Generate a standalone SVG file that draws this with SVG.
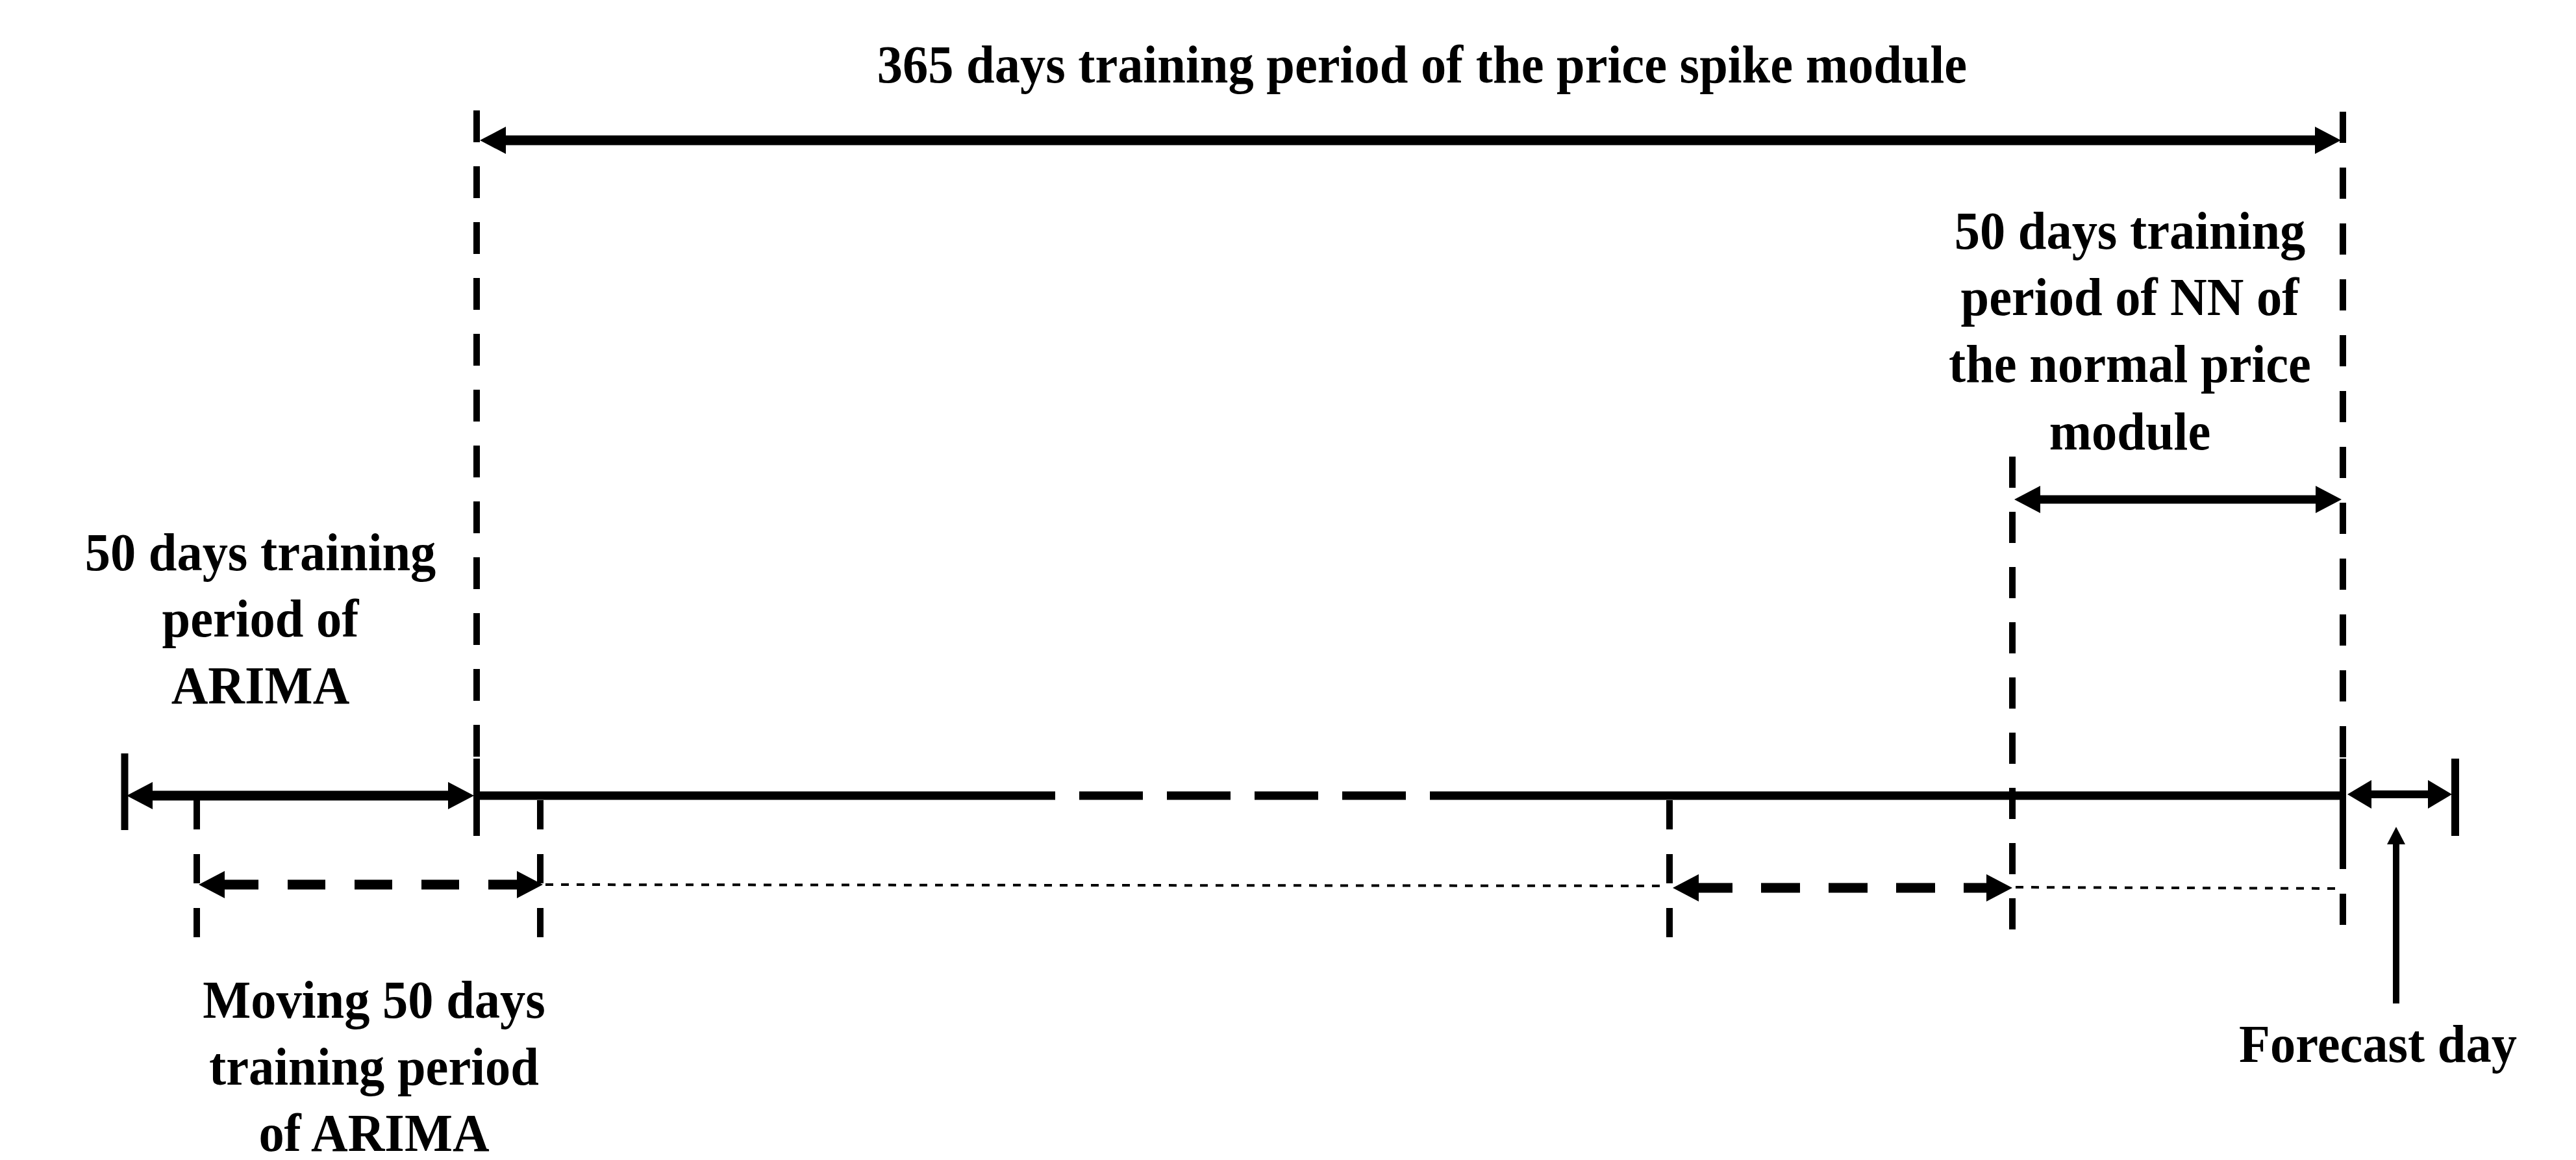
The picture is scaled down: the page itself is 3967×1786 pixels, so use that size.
<svg xmlns="http://www.w3.org/2000/svg" width="3967" height="1786" viewBox="0 0 3967 1786">
  <style>
    .lbl { font-family: "Liberation Serif", "Times New Roman", serif; font-weight: bold; font-size: 82px; fill: #000; text-anchor: middle; }
    .solid { stroke: #000; fill: none; stroke-linecap: butt; }
    .vdash { stroke: #000; fill: none; stroke-width: 10; }
    .dot { stroke: #000; fill: none; stroke-width: 4; stroke-dasharray: 12 12; }
    .head { fill: #000; stroke: none; }
  </style>
  <defs>
    <marker id="ah" viewBox="0 0 40 42" refX="0" refY="21" markerWidth="40" markerHeight="42" markerUnits="userSpaceOnUse" orient="auto-start-reverse">
      <path d="M0,0 L40,21 L0,42 Z" class="head"/>
    </marker>
    <marker id="ahs" viewBox="0 0 37 44" refX="0" refY="22" markerWidth="37" markerHeight="44" markerUnits="userSpaceOnUse" orient="auto-start-reverse">
      <path d="M0,0 L37,22 L0,44 Z" class="head"/>
    </marker>
    <marker id="ahup" viewBox="0 0 27 28" refX="0" refY="14" markerWidth="27" markerHeight="28" markerUnits="userSpaceOnUse" orient="auto">
      <path d="M0,0 L27,14 L0,28 Z" class="head"/>
    </marker>
  </defs>

  <g id="connectors">
    <!-- vertical boundary lines -->
    <line class="vdash" x1="734" y1="170" x2="734" y2="1165" stroke-dasharray="49 37"/>
    <line class="solid" x1="734" y1="1168" x2="734" y2="1287" stroke-width="10"/>
    <line class="vdash" x1="3608" y1="172" x2="3608" y2="1424" stroke-dasharray="48 38"/>
    <line class="solid" x1="3608" y1="1168" x2="3608" y2="1333" stroke-width="10"/>
    <line class="vdash" x1="3099" y1="703" x2="3099" y2="1431" stroke-dasharray="48 37"/>
    <line class="vdash" x1="303" y1="1232" x2="303" y2="1443" stroke-dasharray="45 38"/>
    <line class="vdash" x1="832" y1="1232" x2="832" y2="1443" stroke-dasharray="45 38"/>
    <line class="vdash" x1="2571" y1="1232" x2="2571" y2="1443" stroke-dasharray="45 38"/>
    <!-- end ticks -->
    <line class="solid" x1="192" y1="1160" x2="192" y2="1278" stroke-width="11"/>
    <line class="solid" x1="3781" y1="1168" x2="3781" y2="1287" stroke-width="12"/>

    <!-- 365 days arrow -->
    <line class="solid" x1="779" y1="216" x2="3565" y2="216" stroke-width="15" marker-start="url(#ah)" marker-end="url(#ah)"/>
    <!-- NN 50 days arrow -->
    <line class="solid" x1="3142" y1="769" x2="3566" y2="769" stroke-width="13" marker-start="url(#ah)" marker-end="url(#ah)"/>
    <!-- ARIMA 50 days arrow -->
    <line class="solid" x1="235" y1="1225" x2="690" y2="1225" stroke-width="15" marker-start="url(#ah)" marker-end="url(#ah)"/>
    <!-- main timeline -->
    <line class="solid" x1="734" y1="1225" x2="1625" y2="1225" stroke-width="13"/>
    <line class="solid" x1="1662" y1="1225" x2="2166" y2="1225" stroke-width="13" stroke-dasharray="98 37"/>
    <line class="solid" x1="2202" y1="1225" x2="3608" y2="1225" stroke-width="13"/>
    <!-- forecast day span -->
    <line class="solid" x1="3652" y1="1223" x2="3739" y2="1223" stroke-width="12" marker-start="url(#ahs)" marker-end="url(#ahs)"/>
    <!-- forecast pointer -->
    <line class="solid" x1="3690" y1="1545" x2="3690" y2="1300" stroke-width="10" marker-end="url(#ahup)"/>

    <!-- moving window dashed arrows -->
    <line class="solid" x1="346" y1="1362" x2="796" y2="1362" stroke-width="15" stroke-dasharray="58 45" stroke-dashoffset="6" marker-start="url(#ah)" marker-end="url(#ah)"/>
    <line class="solid" x1="2616" y1="1367" x2="3059" y2="1367" stroke-width="15" stroke-dasharray="60 44" stroke-dashoffset="8" marker-start="url(#ah)" marker-end="url(#ah)"/>
    <!-- dotted continuation -->
    <line class="dot" x1="840" y1="1362" x2="2566" y2="1364"/>
    <line class="dot" x1="3104" y1="1366" x2="3603" y2="1368"/>
  </g>

  <g id="label-365" transform="translate(2190 0) scale(0.957 1)">
    <text class="lbl" x="0" y="127">365 days training period of the price spike module</text>
  </g>

  <g id="label-nn" transform="translate(3280 0) scale(0.957 1)">
    <text class="lbl" x="0" y="383">50 days training</text>
    <text class="lbl" x="0" y="485">period of NN of</text>
    <text class="lbl" x="0" y="588">the normal price</text>
    <text class="lbl" x="0" y="692">module</text>
  </g>

  <g id="label-arima" transform="translate(401 0) scale(0.957 1)">
    <text class="lbl" x="0" y="878">50 days training</text>
    <text class="lbl" x="0" y="980">period of</text>
    <text class="lbl" x="0" y="1083">ARIMA</text>
  </g>

  <g id="label-moving" transform="translate(576 0) scale(0.957 1)">
    <text class="lbl" x="0" y="1567">Moving 50 days</text>
    <text class="lbl" x="0" y="1670">training period</text>
    <text class="lbl" x="0" y="1772">of ARIMA</text>
  </g>

  <g id="label-forecast" transform="translate(3662 0) scale(0.957 1)">
    <text class="lbl" x="0" y="1635">Forecast day</text>
  </g>
</svg>
